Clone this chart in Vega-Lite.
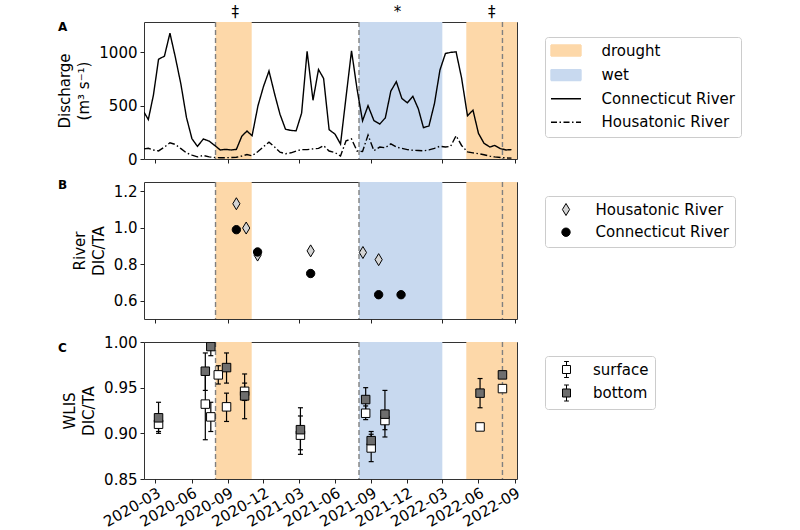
{
  "$schema": "https://vega.github.io/schema/vega-lite/v6.json",
  "background": "white",
  "padding": {"left": 57, "top": 4, "right": 5, "bottom": 0},
  "spacing": 23,
  "bounds": "flush",
  "resolve": {
    "scale": {"x": "independent", "y": "independent", "color": "independent", "fill": "independent", "shape": "independent", "size": "independent", "strokeDash": "independent"},
    "legend": {"color": "independent", "fill": "independent", "shape": "independent", "size": "independent", "strokeDash": "independent"},
    "axis": {"x": "independent", "y": "independent"}
  },
  "datasets": {
    "periods": [
      {"start": "2020-08-01", "end": "2020-11-01", "series": "drought"},
      {"start": "2021-08-01", "end": "2022-03-01", "series": "wet"},
      {"start": "2022-05-01", "end": "2022-09-30", "series": "drought"}
    ],
    "events": [{"date": "2020-08-01"}, {"date": "2021-08-01"}, {"date": "2022-08-01"}],
    "notes": [
      {"date": "2020-09-20", "sym": "‡"},
      {"date": "2021-11-07", "sym": "*"},
      {"date": "2022-07-05", "sym": "‡"}
    ],
    "discharge": [
      {"date": "2020-02-01", "Connecticut River": 439, "Housatonic River": 95},
      {"date": "2020-02-12", "Connecticut River": 370, "Housatonic River": 101},
      {"date": "2020-02-25", "Connecticut River": 600, "Housatonic River": 84},
      {"date": "2020-03-09", "Connecticut River": 935, "Housatonic River": 76},
      {"date": "2020-03-24", "Connecticut River": 965, "Housatonic River": 112},
      {"date": "2020-04-07", "Connecticut River": 1180, "Housatonic River": 152},
      {"date": "2020-04-21", "Connecticut River": 950, "Housatonic River": 136},
      {"date": "2020-05-05", "Connecticut River": 700, "Housatonic River": 97},
      {"date": "2020-05-19", "Connecticut River": 390, "Housatonic River": 58},
      {"date": "2020-06-02", "Connecticut River": 190, "Housatonic River": 36},
      {"date": "2020-06-16", "Connecticut River": 118, "Housatonic River": 20},
      {"date": "2020-07-01", "Connecticut River": 188, "Housatonic River": 33},
      {"date": "2020-07-16", "Connecticut River": 167, "Housatonic River": 20},
      {"date": "2020-07-30", "Connecticut River": 127, "Housatonic River": 14},
      {"date": "2020-08-13", "Connecticut River": 85, "Housatonic River": 12},
      {"date": "2020-08-27", "Connecticut River": 90, "Housatonic River": 12},
      {"date": "2020-09-10", "Connecticut River": 85, "Housatonic River": 14},
      {"date": "2020-09-23", "Connecticut River": 90, "Housatonic River": 16},
      {"date": "2020-10-07", "Connecticut River": 215, "Housatonic River": 28},
      {"date": "2020-10-20", "Connecticut River": 262, "Housatonic River": 42},
      {"date": "2020-11-02", "Connecticut River": 218, "Housatonic River": 30},
      {"date": "2020-11-17", "Connecticut River": 500, "Housatonic River": 70},
      {"date": "2020-12-01", "Connecticut River": 680, "Housatonic River": 115},
      {"date": "2020-12-15", "Connecticut River": 825, "Housatonic River": 158},
      {"date": "2020-12-30", "Connecticut River": 600, "Housatonic River": 110},
      {"date": "2021-01-12", "Connecticut River": 420, "Housatonic River": 64},
      {"date": "2021-01-26", "Connecticut River": 279, "Housatonic River": 50},
      {"date": "2021-02-09", "Connecticut River": 268, "Housatonic River": 58},
      {"date": "2021-02-22", "Connecticut River": 264, "Housatonic River": 75},
      {"date": "2021-03-08", "Connecticut River": 430, "Housatonic River": 88},
      {"date": "2021-03-22", "Connecticut River": 1010, "Housatonic River": 88},
      {"date": "2021-04-06", "Connecticut River": 551, "Housatonic River": 95},
      {"date": "2021-04-20", "Connecticut River": 840, "Housatonic River": 100},
      {"date": "2021-05-03", "Connecticut River": 755, "Housatonic River": 125},
      {"date": "2021-05-17", "Connecticut River": 275, "Housatonic River": 75},
      {"date": "2021-06-01", "Connecticut River": 233, "Housatonic River": 60},
      {"date": "2021-06-15", "Connecticut River": 140, "Housatonic River": 28},
      {"date": "2021-06-29", "Connecticut River": 580, "Housatonic River": 170},
      {"date": "2021-07-13", "Connecticut River": 1015, "Housatonic River": 188},
      {"date": "2021-07-27", "Connecticut River": 657, "Housatonic River": 75},
      {"date": "2021-08-10", "Connecticut River": 358, "Housatonic River": 70},
      {"date": "2021-08-24", "Connecticut River": 500, "Housatonic River": 225},
      {"date": "2021-09-08", "Connecticut River": 360, "Housatonic River": 78},
      {"date": "2021-09-23", "Connecticut River": 328, "Housatonic River": 112},
      {"date": "2021-10-07", "Connecticut River": 386, "Housatonic River": 106},
      {"date": "2021-10-21", "Connecticut River": 637, "Housatonic River": 142},
      {"date": "2021-11-04", "Connecticut River": 725, "Housatonic River": 112},
      {"date": "2021-11-18", "Connecticut River": 568, "Housatonic River": 100},
      {"date": "2021-12-02", "Connecticut River": 527, "Housatonic River": 88},
      {"date": "2021-12-16", "Connecticut River": 588, "Housatonic River": 82},
      {"date": "2021-12-30", "Connecticut River": 470, "Housatonic River": 80},
      {"date": "2022-01-12", "Connecticut River": 294, "Housatonic River": 76},
      {"date": "2022-01-26", "Connecticut River": 310, "Housatonic River": 85},
      {"date": "2022-02-09", "Connecticut River": 520, "Housatonic River": 100},
      {"date": "2022-02-23", "Connecticut River": 835, "Housatonic River": 120},
      {"date": "2022-03-09", "Connecticut River": 990, "Housatonic River": 112},
      {"date": "2022-03-22", "Connecticut River": 1000, "Housatonic River": 118},
      {"date": "2022-04-05", "Connecticut River": 1005, "Housatonic River": 218},
      {"date": "2022-04-19", "Connecticut River": 760, "Housatonic River": 127},
      {"date": "2022-05-04", "Connecticut River": 406, "Housatonic River": 67},
      {"date": "2022-05-18", "Connecticut River": 458, "Housatonic River": 58},
      {"date": "2022-06-01", "Connecticut River": 240, "Housatonic River": 50},
      {"date": "2022-06-15", "Connecticut River": 148, "Housatonic River": 40},
      {"date": "2022-06-30", "Connecticut River": 112, "Housatonic River": 27},
      {"date": "2022-07-12", "Connecticut River": 127, "Housatonic River": 20},
      {"date": "2022-07-27", "Connecticut River": 97, "Housatonic River": 14},
      {"date": "2022-08-10", "Connecticut River": 85, "Housatonic River": 10},
      {"date": "2022-08-24", "Connecticut River": 88, "Housatonic River": 8}
    ],
    "river": [
      {"date": "2020-09-23", "series": "Housatonic River", "r": 1.131},
      {"date": "2020-10-18", "series": "Housatonic River", "r": 0.998},
      {"date": "2020-11-16", "series": "Housatonic River", "r": 0.85},
      {"date": "2021-03-31", "series": "Housatonic River", "r": 0.873},
      {"date": "2021-08-11", "series": "Housatonic River", "r": 0.864},
      {"date": "2021-09-20", "series": "Housatonic River", "r": 0.825},
      {"date": "2020-09-23", "series": "Connecticut River", "r": 0.989},
      {"date": "2020-11-16", "series": "Connecticut River", "r": 0.867},
      {"date": "2021-03-31", "series": "Connecticut River", "r": 0.749},
      {"date": "2021-09-20", "series": "Connecticut River", "r": 0.633},
      {"date": "2021-11-16", "series": "Connecticut River", "r": 0.633}
    ],
    "wlis": [
      {"date": "2020-03-09", "depth": "surface", "v": 0.910, "lo": 0.902, "hi": 0.918},
      {"date": "2020-07-06", "depth": "surface", "v": 0.932, "lo": 0.893, "hi": 0.971},
      {"date": "2020-07-20", "depth": "surface", "v": 0.918, "lo": 0.902, "hi": 0.934},
      {"date": "2020-08-08", "depth": "surface", "v": 0.964, "lo": 0.954, "hi": 0.974},
      {"date": "2020-08-29", "depth": "surface", "v": 0.929, "lo": 0.913, "hi": 0.944},
      {"date": "2020-10-14", "depth": "surface", "v": 0.946, "lo": 0.936, "hi": 0.955},
      {"date": "2021-03-05", "depth": "surface", "v": 0.898, "lo": 0.877, "hi": 0.919},
      {"date": "2021-08-18", "depth": "surface", "v": 0.922, "lo": 0.915, "hi": 0.930},
      {"date": "2021-09-01", "depth": "surface", "v": 0.884, "lo": 0.869, "hi": 0.899},
      {"date": "2021-10-06", "depth": "surface", "v": 0.914, "lo": 0.904, "hi": 0.925},
      {"date": "2022-06-05", "depth": "surface", "v": 0.907, "lo": 0.905, "hi": 0.909},
      {"date": "2022-08-01", "depth": "surface", "v": 0.949, "lo": 0.947, "hi": 0.951},
      {"date": "2020-03-09", "depth": "bottom", "v": 0.917, "lo": 0.900, "hi": 0.934},
      {"date": "2020-07-06", "depth": "bottom", "v": 0.968, "lo": 0.947, "hi": 0.988},
      {"date": "2020-07-20", "depth": "bottom", "v": 0.995, "lo": 0.985, "hi": 1.005},
      {"date": "2020-08-29", "depth": "bottom", "v": 0.972, "lo": 0.955, "hi": 0.988},
      {"date": "2020-10-14", "depth": "bottom", "v": 0.941, "lo": 0.916, "hi": 0.965},
      {"date": "2021-03-05", "depth": "bottom", "v": 0.904, "lo": 0.882, "hi": 0.928},
      {"date": "2021-08-18", "depth": "bottom", "v": 0.937, "lo": 0.925, "hi": 0.950},
      {"date": "2021-09-01", "depth": "bottom", "v": 0.892, "lo": 0.884, "hi": 0.902},
      {"date": "2021-10-06", "depth": "bottom", "v": 0.921, "lo": 0.896, "hi": 0.947},
      {"date": "2022-06-05", "depth": "bottom", "v": 0.944, "lo": 0.928, "hi": 0.960},
      {"date": "2022-08-01", "depth": "bottom", "v": 0.964, "lo": 0.962, "hi": 0.966}
    ]
  },
  "vconcat": [
    {
      "width": 373,
      "height": 137,
      "title": {"text": "A", "fontSize": 12, "fontWeight": "bold", "anchor": "start", "frame": "group", "dx": -86, "dy": 33, "color": "black"},
      "layer": [
        {
          "data": {"name": "periods"},
          "mark": {"type": "rect", "clip": true},
          "encoding": {
            "x": {"field": "start", "type": "temporal", "scale": {"type": "utc", "domain": [{"year": 2020, "month": 2, "date": 1, "utc": true}, {"year": 2022, "month": 9, "date": 7, "utc": true}]},
              "axis": {"title": null, "labels": false, "values": [{"year": 2020, "month": 3, "date": 1, "utc": true}, {"year": 2020, "month": 6, "date": 1, "utc": true}, {"year": 2020, "month": 9, "date": 1, "utc": true}, {"year": 2020, "month": 12, "date": 1, "utc": true}, {"year": 2021, "month": 3, "date": 1, "utc": true}, {"year": 2021, "month": 6, "date": 1, "utc": true}, {"year": 2021, "month": 9, "date": 1, "utc": true}, {"year": 2021, "month": 12, "date": 1, "utc": true}, {"year": 2022, "month": 3, "date": 1, "utc": true}, {"year": 2022, "month": 6, "date": 1, "utc": true}, {"year": 2022, "month": 9, "date": 1, "utc": true}]}},
            "x2": {"field": "end"},
            "fill": {"field": "series", "type": "nominal", "scale": {"domain": ["drought", "wet"], "range": ["#fdd8a9", "#c8d9ef"]}, "legend": null}
          }
        },
        {
          "data": {"name": "events"},
          "mark": {"type": "rule", "color": "#808080", "strokeDash": [5, 3], "strokeWidth": 1.4},
          "encoding": {"x": {"field": "date", "type": "temporal", "scale": {"type": "utc", "domain": [{"year": 2020, "month": 2, "date": 1, "utc": true}, {"year": 2022, "month": 9, "date": 7, "utc": true}]}}}
        },
        {
          "data": {"name": "discharge"},
          "transform": [{"fold": ["Connecticut River", "Housatonic River"], "as": ["series", "q"]}],
          "mark": {"type": "line", "strokeWidth": 1.4, "clip": true},
          "encoding": {
            "x": {"field": "date", "type": "temporal", "scale": {"type": "utc", "domain": [{"year": 2020, "month": 2, "date": 1, "utc": true}, {"year": 2022, "month": 9, "date": 7, "utc": true}]}},
            "y": {"field": "q", "type": "quantitative", "scale": {"domain": [0, 1285], "nice": false}, "axis": {"title": ["Discharge", "(m³ s⁻¹)"], "values": [0, 500, 1000], "format": "d"}},
            "color": {
              "field": "series", "type": "nominal",
              "scale": {"domain": ["drought", "wet", "Connecticut River", "Housatonic River"], "range": ["#fdd8a9", "#c8d9ef", "black", "black"]},
              "legend": {
                "title": null, "orient": "none", "legendX": 401, "legendY": 15,
                "symbolSize": 16, "symbolOffset": 7.5, "labelOffset": 28,
                "rowPadding": 7.6, "padding": 6,
                "encode": {
                  "symbols": {
                    "update": {
                      "shape": {"signal": "(datum.value === 'drought' || datum.value === 'wet') ? 'M-7.5,-2.75H7.5V2.75H-7.5Z' : 'M-7.5,0H7.5'"},
                      "size": {"value": 16},
                      "fill": {"signal": "datum.value === 'drought' ? '#fdd8a9' : (datum.value === 'wet' ? '#c8d9ef' : 'transparent')"},
                      "stroke": {"signal": "datum.value === 'drought' ? '#fdd8a9' : (datum.value === 'wet' ? '#c8d9ef' : 'black')"},
                      "strokeWidth": {"value": 1.4},
                      "strokeDash": {"signal": "datum.value === 'Housatonic River' ? [6, 2.5, 1.5, 2.5] : [1, 0]"},
                      "opacity": {"value": 1}
                    }
                  }
                }
              }
            },
            "strokeDash": {"field": "series", "type": "nominal", "scale": {"domain": ["Connecticut River", "Housatonic River"], "range": [[1, 0], [7, 2.5, 1.5, 2.5]]}, "legend": null}
          }
        },
        {
          "data": {"name": "notes"},
          "mark": {"type": "text", "fontSize": 15, "baseline": "middle", "color": "black"},
          "encoding": {
            "x": {"field": "date", "type": "temporal", "scale": {"type": "utc", "domain": [{"year": 2020, "month": 2, "date": 1, "utc": true}, {"year": 2022, "month": 9, "date": 7, "utc": true}]}},
            "y": {"datum": 1375, "type": "quantitative", "scale": {"domain": [0, 1285], "nice": false}, "axis": {"title": ["Discharge", "(m³ s⁻¹)"], "values": [0, 500, 1000], "format": "d"}},
            "text": {"field": "sym"}
          }
        }
      ]
    },
    {
      "width": 373,
      "height": 137,
      "title": {"text": "B", "fontSize": 12, "fontWeight": "bold", "anchor": "start", "frame": "group", "dx": -86, "dy": 15, "color": "black"},
      "layer": [
        {
          "data": {"name": "periods"},
          "mark": {"type": "rect", "clip": true},
          "encoding": {
            "x": {"field": "start", "type": "temporal", "scale": {"type": "utc", "domain": [{"year": 2020, "month": 2, "date": 1, "utc": true}, {"year": 2022, "month": 9, "date": 7, "utc": true}]},
              "axis": {"title": null, "labels": false, "values": [{"year": 2020, "month": 3, "date": 1, "utc": true}, {"year": 2020, "month": 6, "date": 1, "utc": true}, {"year": 2020, "month": 9, "date": 1, "utc": true}, {"year": 2020, "month": 12, "date": 1, "utc": true}, {"year": 2021, "month": 3, "date": 1, "utc": true}, {"year": 2021, "month": 6, "date": 1, "utc": true}, {"year": 2021, "month": 9, "date": 1, "utc": true}, {"year": 2021, "month": 12, "date": 1, "utc": true}, {"year": 2022, "month": 3, "date": 1, "utc": true}, {"year": 2022, "month": 6, "date": 1, "utc": true}, {"year": 2022, "month": 9, "date": 1, "utc": true}]}},
            "x2": {"field": "end"},
            "color": {"field": "series", "type": "nominal", "scale": {"domain": ["drought", "wet"], "range": ["#fdd8a9", "#c8d9ef"]}, "legend": null}
          }
        },
        {
          "data": {"name": "events"},
          "mark": {"type": "rule", "color": "#808080", "strokeDash": [5, 3], "strokeWidth": 1.4},
          "encoding": {"x": {"field": "date", "type": "temporal", "scale": {"type": "utc", "domain": [{"year": 2020, "month": 2, "date": 1, "utc": true}, {"year": 2022, "month": 9, "date": 7, "utc": true}]}}}
        },
        {
          "data": {"name": "river"},
          "mark": {"type": "point", "filled": true, "stroke": "black", "strokeWidth": 1, "opacity": 1, "clip": true},
          "encoding": {
            "x": {"field": "date", "type": "temporal", "scale": {"type": "utc", "domain": [{"year": 2020, "month": 2, "date": 1, "utc": true}, {"year": 2022, "month": 9, "date": 7, "utc": true}]}},
            "y": {"field": "r", "type": "quantitative", "scale": {"domain": [0.5, 1.25], "nice": false, "zero": false}, "axis": {"title": ["River", "DIC/TA"], "values": [0.6, 0.8, 1.0, 1.2], "format": ".1f"}},
            "fill": {
              "field": "series", "type": "nominal",
              "scale": {"domain": ["Housatonic River", "Connecticut River"], "range": ["#d4d4d4", "black"]},
              "legend": {
                "title": null, "orient": "none", "legendX": 401, "legendY": 14,
                "symbolOffset": 7.5, "labelOffset": 22, "rowPadding": 6.7, "padding": 6,
                "symbolStrokeColor": "black", "symbolStrokeWidth": 1
              }
            },
            "shape": {"field": "series", "type": "nominal", "scale": {"domain": ["Housatonic River", "Connecticut River"], "range": ["M0,-1L0.6,0L0,1L-0.6,0Z", "circle"]}, "legend": {"title": null, "orient": "none"}},
            "size": {"field": "series", "type": "nominal", "scale": {"type": "ordinal", "domain": ["Housatonic River", "Connecticut River"], "range": [144, 70]}, "legend": {"title": null, "orient": "none"}}
          }
        }
      ]
    },
    {
      "width": 373,
      "height": 137,
      "title": {"text": "C", "fontSize": 12, "fontWeight": "bold", "anchor": "start", "frame": "group", "dx": -86, "dy": 24, "color": "black"},
      "layer": [
        {
          "data": {"name": "periods"},
          "mark": {"type": "rect", "clip": true},
          "encoding": {
            "x": {"field": "start", "type": "temporal", "scale": {"type": "utc", "domain": [{"year": 2020, "month": 2, "date": 1, "utc": true}, {"year": 2022, "month": 9, "date": 7, "utc": true}]},
              "axis": {"title": null, "format": "%Y-%m", "labelAngle": -30, "labelAlign": "right", "labelBaseline": "top", "labelPadding": 2, "labelOverlap": false, "labelBound": false, "labelSeparation": -40, "values": [{"year": 2020, "month": 3, "date": 1, "utc": true}, {"year": 2020, "month": 6, "date": 1, "utc": true}, {"year": 2020, "month": 9, "date": 1, "utc": true}, {"year": 2020, "month": 12, "date": 1, "utc": true}, {"year": 2021, "month": 3, "date": 1, "utc": true}, {"year": 2021, "month": 6, "date": 1, "utc": true}, {"year": 2021, "month": 9, "date": 1, "utc": true}, {"year": 2021, "month": 12, "date": 1, "utc": true}, {"year": 2022, "month": 3, "date": 1, "utc": true}, {"year": 2022, "month": 6, "date": 1, "utc": true}, {"year": 2022, "month": 9, "date": 1, "utc": true}]}},
            "x2": {"field": "end"},
            "color": {"field": "series", "type": "nominal", "scale": {"domain": ["drought", "wet"], "range": ["#fdd8a9", "#c8d9ef"]}, "legend": null}
          }
        },
        {
          "data": {"name": "events"},
          "mark": {"type": "rule", "color": "#808080", "strokeDash": [5, 3], "strokeWidth": 1.4},
          "encoding": {"x": {"field": "date", "type": "temporal", "scale": {"type": "utc", "domain": [{"year": 2020, "month": 2, "date": 1, "utc": true}, {"year": 2022, "month": 9, "date": 7, "utc": true}]},
            "axis": {"title": null, "format": "%Y-%m", "labelAngle": -30, "labelAlign": "right", "labelBaseline": "top", "labelPadding": 2, "labelOverlap": false, "labelBound": false, "labelSeparation": -40, "values": [{"year": 2020, "month": 3, "date": 1, "utc": true}, {"year": 2020, "month": 6, "date": 1, "utc": true}, {"year": 2020, "month": 9, "date": 1, "utc": true}, {"year": 2020, "month": 12, "date": 1, "utc": true}, {"year": 2021, "month": 3, "date": 1, "utc": true}, {"year": 2021, "month": 6, "date": 1, "utc": true}, {"year": 2021, "month": 9, "date": 1, "utc": true}, {"year": 2021, "month": 12, "date": 1, "utc": true}, {"year": 2022, "month": 3, "date": 1, "utc": true}, {"year": 2022, "month": 6, "date": 1, "utc": true}, {"year": 2022, "month": 9, "date": 1, "utc": true}]}}}
        },
        {
          "data": {"name": "wlis"},
          "mark": {"type": "rule", "color": "black", "strokeWidth": 1.2, "clip": true},
          "encoding": {
            "x": {"field": "date", "type": "temporal", "scale": {"type": "utc", "domain": [{"year": 2020, "month": 2, "date": 1, "utc": true}, {"year": 2022, "month": 9, "date": 7, "utc": true}]},
              "axis": {"title": null, "format": "%Y-%m", "labelAngle": -30, "labelAlign": "right", "labelBaseline": "top", "labelPadding": 2, "labelOverlap": false, "labelBound": false, "labelSeparation": -40, "values": [{"year": 2020, "month": 3, "date": 1, "utc": true}, {"year": 2020, "month": 6, "date": 1, "utc": true}, {"year": 2020, "month": 9, "date": 1, "utc": true}, {"year": 2020, "month": 12, "date": 1, "utc": true}, {"year": 2021, "month": 3, "date": 1, "utc": true}, {"year": 2021, "month": 6, "date": 1, "utc": true}, {"year": 2021, "month": 9, "date": 1, "utc": true}, {"year": 2021, "month": 12, "date": 1, "utc": true}, {"year": 2022, "month": 3, "date": 1, "utc": true}, {"year": 2022, "month": 6, "date": 1, "utc": true}, {"year": 2022, "month": 9, "date": 1, "utc": true}]}},
            "y": {"field": "lo", "type": "quantitative", "scale": {"domain": [0.85, 1.0], "nice": false, "zero": false}, "axis": {"title": ["WLIS", "DIC/TA"], "values": [0.85, 0.9, 0.95, 1.0], "format": ".2f"}},
            "y2": {"field": "hi"}
          }
        },
        {
          "data": {"name": "wlis"},
          "mark": {"type": "tick", "orient": "horizontal", "size": 5, "thickness": 1.2, "color": "black", "opacity": 1, "clip": true},
          "encoding": {
            "x": {"field": "date", "type": "temporal", "scale": {"type": "utc", "domain": [{"year": 2020, "month": 2, "date": 1, "utc": true}, {"year": 2022, "month": 9, "date": 7, "utc": true}]},
              "axis": {"title": null, "format": "%Y-%m", "labelAngle": -30, "labelAlign": "right", "labelBaseline": "top", "labelPadding": 2, "labelOverlap": false, "labelBound": false, "labelSeparation": -40, "values": [{"year": 2020, "month": 3, "date": 1, "utc": true}, {"year": 2020, "month": 6, "date": 1, "utc": true}, {"year": 2020, "month": 9, "date": 1, "utc": true}, {"year": 2020, "month": 12, "date": 1, "utc": true}, {"year": 2021, "month": 3, "date": 1, "utc": true}, {"year": 2021, "month": 6, "date": 1, "utc": true}, {"year": 2021, "month": 9, "date": 1, "utc": true}, {"year": 2021, "month": 12, "date": 1, "utc": true}, {"year": 2022, "month": 3, "date": 1, "utc": true}, {"year": 2022, "month": 6, "date": 1, "utc": true}, {"year": 2022, "month": 9, "date": 1, "utc": true}]}},
            "y": {"field": "lo", "type": "quantitative", "scale": {"domain": [0.85, 1.0], "nice": false, "zero": false}}
          }
        },
        {
          "data": {"name": "wlis"},
          "mark": {"type": "tick", "orient": "horizontal", "size": 5, "thickness": 1.2, "color": "black", "opacity": 1, "clip": true},
          "encoding": {
            "x": {"field": "date", "type": "temporal", "scale": {"type": "utc", "domain": [{"year": 2020, "month": 2, "date": 1, "utc": true}, {"year": 2022, "month": 9, "date": 7, "utc": true}]},
              "axis": {"title": null, "format": "%Y-%m", "labelAngle": -30, "labelAlign": "right", "labelBaseline": "top", "labelPadding": 2, "labelOverlap": false, "labelBound": false, "labelSeparation": -40, "values": [{"year": 2020, "month": 3, "date": 1, "utc": true}, {"year": 2020, "month": 6, "date": 1, "utc": true}, {"year": 2020, "month": 9, "date": 1, "utc": true}, {"year": 2020, "month": 12, "date": 1, "utc": true}, {"year": 2021, "month": 3, "date": 1, "utc": true}, {"year": 2021, "month": 6, "date": 1, "utc": true}, {"year": 2021, "month": 9, "date": 1, "utc": true}, {"year": 2021, "month": 12, "date": 1, "utc": true}, {"year": 2022, "month": 3, "date": 1, "utc": true}, {"year": 2022, "month": 6, "date": 1, "utc": true}, {"year": 2022, "month": 9, "date": 1, "utc": true}]}},
            "y": {"field": "hi", "type": "quantitative", "scale": {"domain": [0.85, 1.0], "nice": false, "zero": false}}
          }
        },
        {
          "data": {"name": "wlis"},
          "mark": {"type": "point", "shape": "square", "filled": true, "stroke": "black", "strokeWidth": 1, "size": 72, "opacity": 1, "clip": true},
          "encoding": {
            "x": {"field": "date", "type": "temporal", "scale": {"type": "utc", "domain": [{"year": 2020, "month": 2, "date": 1, "utc": true}, {"year": 2022, "month": 9, "date": 7, "utc": true}]},
              "axis": {"title": null, "format": "%Y-%m", "labelAngle": -30, "labelAlign": "right", "labelBaseline": "top", "labelPadding": 2, "labelOverlap": false, "labelBound": false, "labelSeparation": -40, "values": [{"year": 2020, "month": 3, "date": 1, "utc": true}, {"year": 2020, "month": 6, "date": 1, "utc": true}, {"year": 2020, "month": 9, "date": 1, "utc": true}, {"year": 2020, "month": 12, "date": 1, "utc": true}, {"year": 2021, "month": 3, "date": 1, "utc": true}, {"year": 2021, "month": 6, "date": 1, "utc": true}, {"year": 2021, "month": 9, "date": 1, "utc": true}, {"year": 2021, "month": 12, "date": 1, "utc": true}, {"year": 2022, "month": 3, "date": 1, "utc": true}, {"year": 2022, "month": 6, "date": 1, "utc": true}, {"year": 2022, "month": 9, "date": 1, "utc": true}]}},
            "y": {"field": "v", "type": "quantitative", "scale": {"domain": [0.85, 1.0], "nice": false, "zero": false}},
            "fill": {
              "field": "depth", "type": "nominal",
              "scale": {"domain": ["surface", "bottom"], "range": ["white", "#6e6e6e"]},
              "legend": {
                "title": null, "orient": "none", "legendX": 401, "legendY": 14,
                "symbolType": "M-1,-1H1V1H-1Z M0,-1V-2 M0,1V2 M-0.6,-2H0.6 M-0.6,2H0.6",
                "symbolSize": 64, "symbolOffset": 8, "labelOffset": 19, "rowPadding": 2.5, "padding": 6,
                "symbolStrokeColor": "black", "symbolStrokeWidth": 1
              }
            }
          }
        }
      ]
    }
  ],
  "config": {
    "font": "DejaVu Sans",
    "view": {"stroke": "#333333", "strokeWidth": 1},
    "axis": {
      "grid": false, "domain": false, "tickColor": "#222222", "tickSize": 4,
      "labelFont": "DejaVu Sans", "labelFontSize": 15, "labelColor": "black", "labelPadding": 3, "labelFlush": false, "labelOverlap": false,
      "titleFont": "DejaVu Sans", "titleFontSize": 15, "titleFontWeight": "normal", "titleColor": "black", "titlePadding": 7, "titleLineHeight": 19
    },
    "axisX": {"labelOverlap": false, "labelSeparation": -40},
    "axisTemporal": {"labelOverlap": false},
    "legend": {
      "labelFont": "DejaVu Sans", "labelFontSize": 15, "labelColor": "black",
      "strokeColor": "#cccccc", "fillColor": "white", "cornerRadius": 3, "padding": 6
    }
  }
}
